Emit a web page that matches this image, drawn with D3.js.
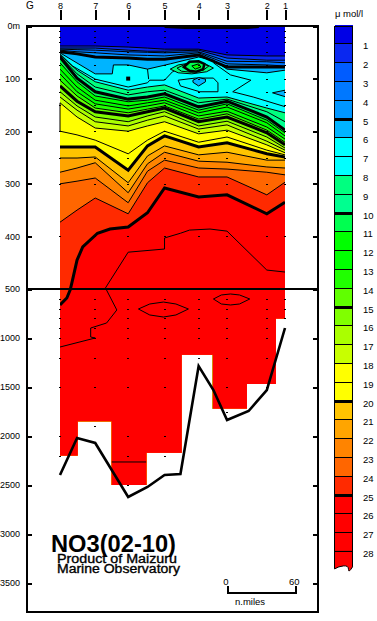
<!DOCTYPE html>
<html><head><meta charset="utf-8">
<script src="https://cdn.jsdelivr.net/npm/d3@7"></script>
<style>
html,body{margin:0;padding:0;background:#fff}
svg{display:block}
text{font-family:"Liberation Sans",Arial,sans-serif;fill:#000}
</style></head><body>
<svg id="c" width="377" height="621"></svg>
<script>
// ---- data -----------------------------------------------------------
const stationNames = ["8","7","6","5","4","3","2","1"];
const stationDist  = [0,31,60,92,122,147,182,198];          // n.miles along section
const bottomDepthBox = [2200,1850,2500,2170,1170,1720,1470,800];
const lastObsDepth = [2200,1900,2500,2200,1200,1750,1500,800];
const obsDepths = [10,20,30,50,75,100,125,150,200,250,300,400,500,600,700,800,900,1000,1200,1500,1750,1900,2000,2200,2500];
const stationObsSkip = {1:[1750,2000,2200,2500],0:[1750,1900,2500],2:[1750,1900],3:[1750,1900,2500],5:[],6:[]};
const bigObs = [[60,100]];
const depthTicks = [0,100,200,300,400,500,1000,1500,2000,2500,3000,3500];
const legendLevels = d3.range(1,29);
const thickLevels = [5,10,15,20,25];
const bathyDist  = [0,15,31,60,77,92,106,122,135,147,166,182,198];
const bathyDepth = [2398,2020,2071,2622,2520,2398,2388,1286,1531,1837,1745,1531,898];

// isoline depths at the columns of gridDist
const gridDist = [0,15,31,60,77,92,122,147,182,198];
const L1  = [38,38,38,40,42,44,44,55,57,57];
const L2  = [42,42,42,46,48,48,46,61,65,65];
const L3  = [44,45,46,49,50,51,49,67,68,70];
const L4  = [46,49,51,55,56,57,51,72,74,76];
const L5  = [49,53,59,61,63,63,55,78,78,78];
const L8  = [55,84,106,122,116,112,137,135,156,165];
const L9  = [57,91,116,131,125,122,146,139,163,182];
const L10 = [59,99,125,139,135,129,154,143,173,198];
const L11 = [70,106,133,144,141,135,160,148,179,203];
const L12 = [82,116,141,152,146,141,165,154,184,209];
const L13 = [91,125,148,158,152,146,171,162,192,215];
const L14 = [103,133,156,165,158,152,177,167,198,221];
const L15 = [114,143,163,171,163,156,182,173,203,226];
const L16 = [125,152,173,182,171,163,190,181,211,232];
const L17 = [135,160,182,190,179,171,196,188,219,236];
const L18 = [146,173,194,200,190,182,205,198,226,241];
const L19 = [200,207,217,243,217,200,221,211,236,245];
const L20 = [230,230,230,274,228,209,230,222,243,249];
const L21 = [251,251,249,298,247,228,245,240,255,255];
const L22 = [278,270,260,317,262,240,257,259,268,270];
const L23 = [300,295,289,336,276,255,270,272,278,283];
const L24 = [373,350,327,357,298,270,287,287,321,297];
// isolines with their own [distance, depth] points
const L6Pts  = [[0,51],[31,91],[46,91],[47,74],[60,74],[77,82],[97,72],[110,65],[122,59],[135,65],[147,82],[182,89],[198,84]];
const L7Pts  = [[0,53],[11,76],[31,101],[60,116],[77,108],[79,103],[92,103],[99,87],[110,76]];
const L7bPts = [[135,70],[150,93],[168,103],[152,125],[170,135],[199,154]];
const strayPts = [[77,82],[78,101]];
const leftEdgePts = [[0,146],[0,200]];
const L25Pts = [[0,663],[6,592],[9,509],[11,483],[15,445],[20,420],[33,394],[44,386],[60,382],[77,355],[92,308],[122,325],[147,321],[182,357],[198,335]];
const L26Pts = [[199,468],[182,464],[147,390],[132,386],[114,388],[106,394],[92,403],[92,424],[60,430],[40,498],[50,714],[41,847],[27,898],[27,990],[31,1000],[0,1092]];
const L28Pts = [[45,2265],[76,2265]];
// closed contours
const lens1 = [[69,704],[79,653],[91,633],[102,653],[113,704],[102,765],[91,786],[79,765]];
const lens2 = [[135,602],[142,561],[150,551],[158,561],[167,602],[158,653],[150,663],[142,653]];
const blob8 = [[97,82],[104,74],[116,70],[128,72],[135,80],[129,87],[116,91],[104,89]];
const blob9 = [[103,80],[110,73],[122,70],[131,76],[126,84],[116,88],[107,86]];
const blob10 = [[109,78],[114,68],[122,67],[127,72],[126,82],[120,87],[114,85]];
const blob11 = [[116,76],[122,72],[124,78],[119,82]];
const ring7 = [[104,103],[119,99],[135,99],[139,108],[139,125],[123,125],[106,114]];
const pocket6a = [[117,103],[122,98],[128,101],[128,106],[122,114],[117,107]];
const pocket6b = [[187,127],[198,122],[199,135]];
const surfaceCap = [[92,2],[110,4],[165,4],[175,2]];

const bandColors = ["#0000e6","#0a28f0","#005cff","#0078ff","#0096ff","#00b4ff","#00ffff","#00ffff","#00ff80","#00ff90",
 "#00ff50","#00ff00","#00ff00","#20ff00","#60ff00","#80ff00","#aaff00","#c8ff00","#ffff00","#ffff00",
 "#ffc400","#ffa500","#ff8400","#ff6600","#ff2a00","#ff0000","#ff0000","#ff0000","#ff0000"];

// ---- scales -----------------------------------------------------------
const x = d3.scaleLinear().domain([0,198]).range([60,285]);
const y = d3.scaleLinear().domain([0,500,3500]).range([26,289,583]);
const legY = d3.scaleLinear().domain([0,28]).range([25,551.4]);
const svg = d3.select("#c");

// mask of the section: one column per station, to its lowest box depth
const mids = d3.pairs(stationDist).map(([a,b])=>(a+b)/2);
const colEdges = [stationDist[0],...mids,stationDist[7]];
svg.append("clipPath").attr("id","sec").selectAll("rect").data(bottomDepthBox).join("rect")
  .attr("x",(d,i)=>x(colEdges[i])).attr("width",(d,i)=>x(colEdges[i+1])-x(colEdges[i]))
  .attr("y",y(0)).attr("height",d=>y(d)-y(0)).attr("shape-rendering","crispEdges");

const g = svg.append("g").attr("clip-path","url(#sec)");
const ptsOf = arr => arr.map((d,i)=>[gridDist[i],d]);
const fills = [
  [1,ptsOf(L1)],[2,ptsOf(L2)],[3,ptsOf(L3)],[4,ptsOf(L4)],[5,ptsOf(L5)],[6,L6Pts],
  [8,ptsOf(L8)],[9,ptsOf(L9)],[10,ptsOf(L10)],[11,ptsOf(L11)],[12,ptsOf(L12)],[13,ptsOf(L13)],[14,ptsOf(L14)],
  [15,ptsOf(L15)],[16,ptsOf(L16)],[17,ptsOf(L17)],[18,ptsOf(L18)],[19,ptsOf(L19)],[20,ptsOf(L20)],[21,ptsOf(L21)],
  [22,ptsOf(L22)],[23,ptsOf(L23)],[24,ptsOf(L24)],[25,L25Pts]
];
g.append("rect").attr("x",x(0)).attr("y",y(0)).attr("width",x(198)-x(0)).attr("height",y(3500)-y(0)).attr("fill",bandColors[0]);
const area = d3.area().x(d=>x(d[0])).y0(y(3500)).y1(d=>y(d[1]));
const line = d3.line().x(d=>x(d[0])).y(d=>y(d[1]));
const closed = d3.line().x(d=>x(d[0])).y(d=>y(d[1])).curve(d3.curveLinearClosed);
fills.forEach(([lev,pts])=>{
  g.append("path").attr("d",area(pts)).attr("fill",bandColors[lev]);
});
// contour lines
fills.forEach(([lev,pts])=>{
  g.append("path").attr("d",line(pts)).attr("fill","none").attr("stroke","#000")
   .attr("stroke-width",thickLevels.includes(lev)?3:1);
});
[L7Pts,L7bPts,strayPts,L26Pts,L28Pts].forEach(p=>
  g.append("path").attr("d",line(p)).attr("fill","none").attr("stroke","#000").attr("stroke-width",1));
g.append("path").attr("d",line(surfaceCap)).attr("fill","none").attr("stroke","#000").attr("stroke-width",2);
[lens1,lens2].forEach(p=>g.append("path").attr("d",closed(p)).attr("fill","none").attr("stroke","#000").attr("stroke-width",1));
[[pocket6b,bandColors[5],1],[ring7,"none",1],[pocket6a,bandColors[5],1],[blob8,bandColors[8],1],[blob9,bandColors[9],1],[blob10,bandColors[10],2.5],[blob11,bandColors[11],1]]
 .forEach(([p,f,w])=>g.append("path").attr("d",closed(p)).attr("fill",f).attr("stroke","#000").attr("stroke-width",w));

svg.append("path").attr("d",line(leftEdgePts)).attr("stroke","#000").attr("stroke-width",1).attr("fill","none");

// observation marks
stationDist.forEach((sd,i)=>{
  const skip = stationObsSkip[i]||[];
  obsDepths.filter(d=>d<=lastObsDepth[i] && !skip.includes(d)).forEach(d=>{
    svg.append("rect").attr("x",x(sd)-1).attr("y",Math.round(y(d))).attr("width",2).attr("height",1).attr("fill","#000").attr("shape-rendering","crispEdges");
  });
});
bigObs.forEach(([sd,d])=>svg.append("rect").attr("x",x(sd)-2).attr("y",y(d)-2).attr("width",4).attr("height",4).attr("fill","#000"));

// bottom line
svg.append("path").attr("d",d3.line().x((d,i)=>x(bathyDist[i])).y(d=>y(d))(bathyDepth))
  .attr("fill","none").attr("stroke","#000").attr("stroke-width",2.6);

// frame
const fr = {l:27,r:318,t:26,b:612};
svg.append("rect").attr("x",fr.l).attr("y",fr.t).attr("width",fr.r-fr.l).attr("height",fr.b-fr.t)
  .attr("fill","none").attr("stroke","#000").attr("stroke-width",2).attr("shape-rendering","crispEdges");
svg.append("line").attr("x1",fr.l).attr("x2",fr.r).attr("y1",y(500)).attr("y2",y(500)).attr("stroke","#000").attr("stroke-width",2).attr("shape-rendering","crispEdges");

// axes
const axL = svg.append("g").attr("transform",`translate(${fr.l},0)`)
  .call(d3.axisLeft(y).tickValues(depthTicks).tickSizeInner(-5).tickSizeOuter(0).tickPadding(7).tickFormat(d=>d===0?"0m":d));
const axR = svg.append("g").attr("transform",`translate(${fr.r},0)`)
  .call(d3.axisRight(y).tickValues(depthTicks).tickSizeInner(-5).tickSizeOuter(0).tickFormat(""));
const axT = svg.append("g").attr("transform","translate(0,20)")
  .call(d3.axisTop(x).tickValues(stationDist).tickSizeInner(10).tickSizeOuter(0).tickPadding(1).tickFormat((d,i)=>stationNames[i]));
[axL,axR,axT].forEach(a=>{
  a.select(".domain").remove();
  a.selectAll("line").attr("stroke","#000").attr("stroke-width",2).attr("shape-rendering","crispEdges");
  a.selectAll("text").attr("font-size",9).attr("font-family","'Liberation Sans',Arial,sans-serif").attr("fill","#000");
});
svg.append("text").attr("x",26).attr("y",9).attr("font-size",10).text("G");

// legend
const legX0=334.5, legX1=352.5;
const legBand = d3.range(0,28);
svg.selectAll(".lb").data(legBand).join("rect").attr("class","lb")
  .attr("x",legX0).attr("width",legX1-legX0).attr("y",d=>legY(d)).attr("height",d=>legY(d+1)-legY(d))
  .attr("fill",d=>bandColors[d]).attr("shape-rendering","crispEdges");
const lastY = legY(28);
svg.append("path").attr("fill",bandColors[28]).attr("stroke","#000").attr("stroke-width",1)
  .attr("d",`M${legX0},${lastY}V${lastY+17.5}Q${legX0+4},${lastY+15} ${legX0+9},${lastY+14.5}T${legX1-4},${lastY+18}T${legX1},${lastY+15.5}V${lastY}Z`);
svg.append("rect").attr("x",legX0).attr("width",legX1-legX0).attr("y",legY(0)+1).attr("height",legY(28)-legY(0)-1)
  .attr("fill","none").attr("stroke","#000").attr("stroke-width",1).attr("shape-rendering","crispEdges");
svg.selectAll(".ll").data(legendLevels).join("line").attr("class","ll")
  .attr("x1",legX0).attr("x2",legX1).attr("y1",d=>legY(d)).attr("y2",d=>legY(d))
  .attr("stroke","#000").attr("stroke-width",d=>thickLevels.includes(d)?3:1).attr("shape-rendering","crispEdges");
svg.selectAll(".lt").data(legendLevels).join("text").attr("class","lt")
  .attr("x",363).attr("y",d=>legY(d)+5.5).attr("font-size",9.5).text(d=>d);
svg.append("text").attr("x",335).attr("y",17).attr("font-size",9.5).attr("textLength",28).text("μ mol/l");

// title
svg.append("text").attr("x",51).attr("y",551.5).attr("font-size",23).attr("font-weight","bold").attr("textLength",125).attr("lengthAdjust","spacingAndGlyphs").text("NO3(02-10)");
svg.append("text").attr("x",57).attr("y",563).attr("font-size",12.5).attr("stroke","#000").attr("stroke-width",0.35).attr("textLength",120).attr("lengthAdjust","spacingAndGlyphs").text("Product of Maizuru");
svg.append("text").attr("x",57).attr("y",573).attr("font-size",12.5).attr("stroke","#000").attr("stroke-width",0.35).attr("textLength",123).attr("lengthAdjust","spacingAndGlyphs").text("Marine Observatory");

// scale bar
const barX=228, barLen=x(60)-x(0);
svg.append("path").attr("d",`M${barX},586V593H${barX+barLen}V586`).attr("fill","none").attr("stroke","#000").attr("stroke-width",2).attr("shape-rendering","crispEdges");
svg.append("text").attr("x",barX-2).attr("y",585).attr("text-anchor","middle").attr("font-size",9.5).text("0");
svg.append("text").attr("x",barX+barLen-2).attr("y",585).attr("text-anchor","middle").attr("font-size",9.5).text("60");
svg.append("text").attr("x",250).attr("y",605).attr("text-anchor","middle").attr("font-size",9.5).text("n.miles");
</script>
</body></html>
